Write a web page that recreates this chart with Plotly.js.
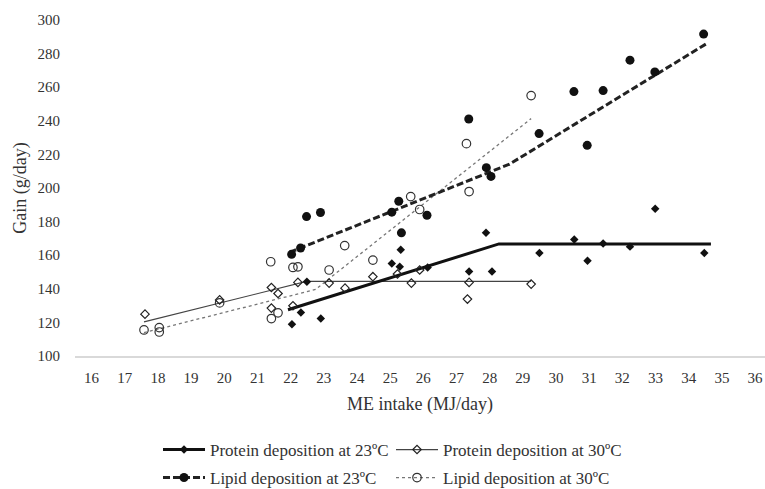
<!DOCTYPE html>
<html>
<head>
<meta charset="utf-8">
<script src="https://cdn.plot.ly/plotly-3.0.1.min.js"></script>
<style>html,body{margin:0;padding:0;background:#fff;}#chart{width:765px;height:489px;}</style>
</head>
<body>
<div id="chart"></div>
<script>
// ---- Data ----
var xTicks = [16,17,18,19,20,21,22,23,24,25,26,27,28,29,30,31,32,33,34,35,36];
var yTicks = [100,120,140,160,180,200,220,240,260,280,300];

// Protein deposition at 23 ºC (observed)
var prot23X = [22.04,22.31,22.91,22.49,25.05,25.29,25.32,26.13,27.38,27.89,28.07,29.50,30.55,30.95,31.42,32.23,32.99,34.47];
var prot23Y = [118.9,125.9,122.3,144.2,155.1,153.1,163.3,152.7,150.3,173.4,150.3,161.3,169.3,156.7,167.0,165.1,187.6,161.3];
// Protein deposition at 30 ºC (observed)
var prot30X = [17.61,19.86,21.42,21.62,21.42,22.22,22.07,23.16,23.64,24.48,25.22,25.64,25.89,27.38,27.33,29.25];
var prot30Y = [124.9,133.4,140.8,137.2,128.5,143.8,129.9,143.4,140.4,147.2,148.8,143.4,151.2,143.8,133.9,142.8];
// Lipid deposition at 23 ºC (observed)
var lip23X = [22.03,22.30,22.48,22.90,25.05,25.26,25.34,26.11,27.37,27.90,28.04,29.49,30.54,30.94,31.42,32.23,32.98,34.45];
var lip23Y = [160.5,164.3,183.0,185.4,185.6,192.1,173.3,183.8,241.1,212.1,206.9,232.4,257.4,225.4,258.0,276.1,269.1,291.6];
// Lipid deposition at 30 ºC (observed)
var lip30X = [17.58,18.04,18.04,19.86,21.40,21.42,21.62,22.07,22.22,23.16,23.63,24.48,25.62,25.89,27.30,27.38,29.25];
var lip30Y = [115.5,116.9,114.3,131.6,156.1,122.3,125.7,152.7,153.1,151.2,165.7,157.1,194.9,187.2,226.4,197.9,255.0];

// Broken-line fits (vertices)
var prot23FitX = [21.92,28.28,34.67];
var prot23FitY = [127.5,166.7,166.7];
var prot30FitX = [17.58,22.48,29.25];
var prot30FitY = [120.3,144.4,144.4];
var lip23FitX = [21.97,28.6,34.52];
var lip23FitY = [161.7,214.2,285.7];
var lip30FitX = [17.58,22.75,29.25];
var lip30FitY = [113.9,139.6,241.3];

var seriesNames = ['Protein deposition at 23ºC','Protein deposition at 30ºC','Lipid deposition at 23ºC','Lipid deposition at 30ºC'];

// ---- Styles ----
var FONT = 'Liberation Serif, "Times New Roman", serif';
var TXT = '#333333';
var mProt23 = {symbol:'diamond', size:6.5, color:'#111111', line:{width:0}};
var mProt30 = {symbol:'diamond-open', size:6.5, color:'#222222', line:{width:1.2}};
var mLip23  = {symbol:'circle', size:9, color:'#111111', line:{width:0}};
var mLip30  = {symbol:'circle-open', size:8.5, color:'#333333', line:{width:1.2}};
var lProt23 = {color:'#111111', width:3};
var lProt30 = {color:'#444444', width:1.2};
var lLip23  = {color:'#222222', width:3, dash:'7px,3px'};
var lLip30  = {color:'#777777', width:1.3, dash:'3px,3px'};

var traces = [
  // fit lines
  {x:prot30FitX, y:prot30FitY, mode:'lines', line:lProt30, showlegend:false, hoverinfo:'skip'},
  {x:lip30FitX, y:lip30FitY, mode:'lines', line:lLip30, showlegend:false, hoverinfo:'skip'},
  {x:prot23FitX, y:prot23FitY, mode:'lines', line:lProt23, showlegend:false, hoverinfo:'skip'},
  {x:lip23FitX, y:lip23FitY, mode:'lines', line:lLip23, showlegend:false, hoverinfo:'skip'},
  // observed points
  {x:lip30X, y:lip30Y, mode:'markers', marker:mLip30, showlegend:false},
  {x:prot30X, y:prot30Y, mode:'markers', marker:mProt30, showlegend:false},
  {x:lip23X, y:lip23Y, mode:'markers', marker:mLip23, showlegend:false},
  {x:prot23X, y:prot23Y, mode:'markers', marker:mProt23, showlegend:false},
  // legend entries
  {x:[null], y:[null], mode:'lines+markers', name:seriesNames[0], line:lProt23, marker:mProt23, legend:'legend'},
  {x:[null], y:[null], mode:'lines+markers', name:seriesNames[1], line:lProt30, marker:mProt30, legend:'legend'},
  {x:[null], y:[null], mode:'lines+markers', name:seriesNames[2], line:lLip23, marker:mLip23, legend:'legend2'},
  {x:[null], y:[null], mode:'lines+markers', name:seriesNames[3], line:lLip30, marker:mLip30, legend:'legend2'}
];

var legendCommon = {
  orientation:'h', xanchor:'left', yanchor:'middle', yref:'container', x:0.1203,
  font:{family:FONT, size:17, color:TXT}, bgcolor:'rgba(0,0,0,0)',
  itemwidth:42, entrywidth:176, entrywidthmode:'pixels', tracegroupgap:0
};

var layout = {
  width:765, height:489,
  margin:{l:75, r:0, t:20, b:133.3, pad:0, autoexpand:false},
  paper_bgcolor:'#ffffff', plot_bgcolor:'#ffffff',
  font:{family:FONT, color:TXT},
  showlegend:true,
  xaxis:{
    range:[15.5,36.3], tickmode:'array', tickvals:xTicks, ticktext:xTicks.map(String),
    showgrid:false, zeroline:false, showline:true, linecolor:'#d9d9d9', linewidth:1.5,
    ticks:'', ticklabelstandoff:7,
    tickfont:{family:FONT, size:15, color:TXT},
    title:{text:'ME intake (MJ/day)', font:{family:FONT, size:18, color:TXT}, standoff:13},
    fixedrange:true
  },
  yaxis:{
    range:[100,300], tickmode:'array', tickvals:yTicks, ticktext:yTicks.map(String),
    showgrid:false, zeroline:false, showline:false, ticks:'', ticklabelstandoff:14,
    tickfont:{family:FONT, size:15, color:TXT},
    title:{text:'Gain (g/day)', font:{family:FONT, size:18, color:TXT}, standoff:6},
    fixedrange:true
  },
  legend: Object.assign({}, legendCommon, {y:0.0798}),
  legend2: Object.assign({}, legendCommon, {y:0.0225})
};

Plotly.newPlot('chart', traces, layout, {displayModeBar:false, staticPlot:true});
</script>
</body>
</html>
